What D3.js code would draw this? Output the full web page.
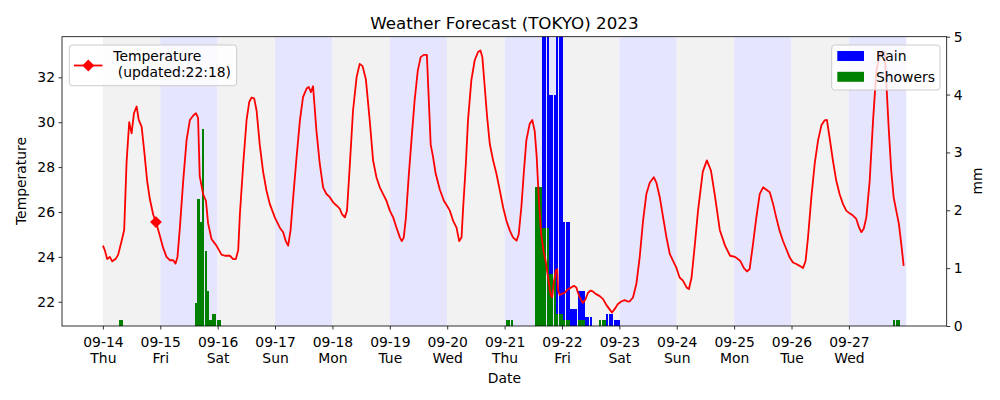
<!DOCTYPE html>
<html>
<head>
<meta charset="utf-8">
<script src="https://cdn.jsdelivr.net/npm/d3@7"></script>
<style>
  body { margin: 0; background: #fff; }
  text { font-family: "DejaVu Sans", sans-serif; }
</style>
</head>
<body>
<svg id="chart" width="1000" height="400"></svg>
<script>
// day labels (ticks at midnight, hours counted from 09-14 00:00)
const days = ["09-14", "09-15", "09-16", "09-17", "09-18", "09-19", "09-20",
              "09-21", "09-22", "09-23", "09-24", "09-25", "09-26", "09-27"];
const weekdays = ["Thu", "Fri", "Sat", "Sun", "Mon", "Tue", "Wed",
                  "Thu", "Fri", "Sat", "Sun", "Mon", "Tue", "Wed"];

// temperature forecast
const tempHours = [0,0.8,1.8,2.9,3.9,5.3,6.4,7.8,8.9,9.9,11,12,13,14.1,15,16.2,17.3,18.5,19.6,21,22.2,23.8,
  25.2,26.6,28,29.4,30.4,31.2,32.2,33.6,35,36.4,37.8,38.9,39.8,40.5,41.9,43.1,44,45.4,47.5,
  49.6,51,53.1,54.5,55.6,56.6,57.3,58.7,60.1,61.2,62.2,63.3,64.3,65.6,67,68.4,69.8,71.9,
  74,75.4,76.5,77.5,78.5,79.6,81,82.4,83.7,85.2,86.1,87,87.9,89.3,90.7,92.1,93.5,94.9,96.3,97.7,99.1,
  100,101.2,102.1,103.3,104.6,106.1,107.4,108.6,110,111.6,113,114.4,115.8,117.2,118.6,120,121.4,122.8,
  124.2,125,125.8,126.7,127.9,129.2,130.4,131.7,132.9,134.2,135.5,136.3,137.1,138,139.2,140.9,142.6,143.8,
  145.1,146.5,147.9,149,150,150.6,151.8,152.7,154.1,155.5,156.9,157.9,158.7,159.7,160.7,161.8,163.2,164.6,
  166,167.4,168.8,170.2,171.5,173,173.9,175,176,177.1,178.5,179.6,180.6,181.4,182.3,183.3,184.4,185.2,
  186.3,187.3,187.9,188.5,189.4,190,190.4,191.1,191.9,193.1,194.4,195.9,197,198,198.7,199.4,200.7,201.8,
  202.9,204,205,206.1,207.8,209.2,210.6,212,212.9,214,215.4,216.8,218.2,219.6,220.3,221.7,223.1,224.5,
  225.9,227.3,228.7,230.4,231.5,232.9,234.3,235.7,237.1,238.4,239.8,241.2,242.6,244.1,245.1,246.2,247.6,
  248.9,250.9,252.6,254.3,256,258,260.2,262.3,264.4,266.5,268.1,269.4,270.5,271.9,273.3,274.7,276.1,
  277.5,278.9,280.3,281.6,283,284.4,285.8,287.2,288.6,290,291.4,292.8,293.9,294.9,296.3,297.7,299.1,
  300.5,301.8,302.8,303.9,305.3,306.7,308.1,309.5,310.9,312.3,313.7,315.1,316.2,317.2,318.2,319.3,320.7,
  322.1,323.5,324.9,326,326.9,327.6,328.7,329.7,330.7,331.8,332.9,333.9,334.9];
const tempC = [24.5,24.3,23.9,24.0,23.8,23.9,24.1,24.7,25.2,28.2,30.0,29.5,30.4,30.7,30.1,29.8,28.7,27.4,26.6,25.9,25.55,24.95,
  24.4,24.0,23.85,23.85,23.7,24.0,25.3,27.4,29.2,30.1,30.3,30.4,30.2,27.6,26.8,26.5,25.5,24.8,24.5,
  24.1,24.05,24.05,23.9,23.9,24.3,25.9,28.15,30.1,30.9,31.1,31.05,30.5,29.0,27.8,26.96,26.36,25.76,
  25.3,25.1,24.7,24.5,25.2,26.66,28.44,30.08,31.12,31.5,31.57,31.34,31.6,29.63,28.15,27.1,26.8,26.66,26.43,26.29,26.14,
  25.9,25.76,26.06,28.15,30.5,32.0,32.6,32.5,31.9,30.08,28.3,27.55,27.1,26.8,26.5,26.06,25.76,25.3,
  24.87,24.7,24.85,25.7,27.6,29.4,31.0,32.3,32.9,33.0,33.0,31.0,29.0,28.5,27.7,27.0,26.5,26.3,
  26.06,25.6,25.3,24.7,24.87,26.06,28.15,30.08,31.87,32.76,33.13,33.2,32.9,31.57,30.23,29.04,28.3,27.7,
  26.96,26.2,25.6,25.17,24.87,24.72,25.0,26.2,27.7,29.19,29.93,30.1,29.6,28.5,26.6,25.0,24.2,23.8,
  23.0,22.3,22.2,22.8,23.4,23.45,22.5,22.3,22.35,22.4,22.55,22.64,22.71,22.64,22.4,22.2,21.95,22.1,
  22.4,22.5,22.45,22.35,22.25,22.12,21.85,21.65,21.52,21.67,21.9,22.01,22.07,22.01,22.02,22.19,22.79,23.98,
  25.6,26.8,27.3,27.55,27.3,26.66,25.76,24.87,24.13,23.83,23.53,23.08,22.94,22.64,22.57,23.08,24.58,
  26.06,27.8,28.3,27.85,26.7,25.2,24.5,24.05,24.0,23.83,23.5,23.35,23.46,24.58,25.76,26.8,27.1,
  26.99,26.88,26.36,25.76,25.17,24.72,24.35,23.98,23.75,23.68,23.6,23.5,23.83,24.87,26.66,28.15,29.19,
  29.86,30.08,30.1,29.33,28.3,27.4,26.8,26.36,26.06,25.94,25.84,25.69,25.32,25.1,25.25,25.76,27.4,
  30.08,32.3,32.98,33.17,33.13,31.87,29.63,27.85,26.66,26.06,25.47,24.58,23.6];

// latest observation marker
const updatedHour = 22.2;
const updatedTemp = 25.55;
const updatedLabel = "Temperature\n (updated:22:18)";

// hourly precipitation (mm)
const rainHours = [184,185,186,187,188,189,190,191,192,193,194,195,196,197,198,
                   199,200,201,202,203,204,211,212,213,214,215,216];
const rainMm = [5.6,5.6,5.6,4.0,4.0,4.0,5.8,5.8,5.8,1.8,1.8,1.8,0.3,0.3,0.3,
                0.6,0.6,0.6,0.15,0.15,0.15,0.2,0.2,0.2,0.1,0.1,0.1];
const showerHours = [7,8,39,40,41,42,43,44,45,46,47,48,49,169,170,171,181,182,183,
                     184,185,186,187,188,189,190,191,192,193,194,195,199,200,201,
                     208,209,210,331,332,333];
const showerMm = [0.1,0.1,0.4,2.2,1.8,3.4,1.3,0.6,0.1,0.2,0.2,0.1,0.1,0.1,0.1,0.1,2.4,2.4,2.4,
                  1.7,1.7,1.7,0.9,0.9,0.9,0.2,0.2,0.2,0.1,0.1,0.1,0.1,0.1,0.1,
                  0.1,0.1,0.1,0.1,0.1,0.1];

const margin = {top: 36.7, right: 53.3, bottom: 74, left: 62};
const WIDTH = 1000, HEIGHT = 400;
const FS = 13.9;

const svg = d3.select("#chart");

const x = d3.scaleLinear().domain([-17.1, 352.9]).range([margin.left, WIDTH - margin.right]);
const yT = d3.scaleLinear().domain([20.92, 33.81]).range([HEIGHT - margin.bottom, margin.top]);
const yR = d3.scaleLinear().domain([0, 5]).range([HEIGHT - margin.bottom, margin.top]);

svg.append("defs").append("clipPath").attr("id", "plot")
  .append("rect")
  .attr("x", margin.left).attr("y", margin.top)
  .attr("width", WIDTH - margin.right - margin.left)
  .attr("height", HEIGHT - margin.bottom - margin.top);

// day shading
svg.append("g")
  .selectAll("rect")
  .data(days)
  .join("rect")
  .attr("x", (d, i) => x(i * 24))
  .attr("width", (d, i) => x((i + 1) * 24) - x(i * 24))
  .attr("y", margin.top)
  .attr("height", yT.range()[0] - margin.top)
  .attr("fill", (d, i) => i % 2 ? "#e5e5fd" : "#f2f2f2");

// bars
const barW = x(0.9) - x(0);
const bars = svg.append("g").attr("clip-path", "url(#plot)").attr("shape-rendering", "crispEdges");
bars.selectAll("rect.rain")
  .data(rainHours.map((h, i) => [h, rainMm[i]]))
  .join("rect").attr("class", "rain")
  .attr("x", d => x(d[0]) - barW / 2)
  .attr("width", barW)
  .attr("y", d => yR(d[1]))
  .attr("height", d => yR(0) - yR(d[1]))
  .attr("fill", "#0000ff");
bars.selectAll("rect.shower")
  .data(showerHours.map((h, i) => [h, showerMm[i]]))
  .join("rect").attr("class", "shower")
  .attr("x", d => x(d[0]) - barW / 2)
  .attr("width", barW)
  .attr("y", d => yR(d[1]))
  .attr("height", d => yR(0) - yR(d[1]))
  .attr("fill", "#008000");

// temperature line
const line = d3.line().x(d => x(d[0])).y(d => yT(d[1]));
svg.append("path")
  .datum(tempHours.map((h, i) => [h, tempC[i]]))
  .attr("d", line)
  .attr("fill", "none")
  .attr("stroke", "#ff0000")
  .attr("stroke-width", 1.8)
  .attr("stroke-linejoin", "round");

const diamond = d3.symbol().type(d3.symbolSquare).size(70);
svg.append("path")
  .attr("d", diamond())
  .attr("transform", `translate(${x(updatedHour)},${yT(updatedTemp)}) rotate(45)`)
  .attr("fill", "#ff0000");

// axes
function styleAxis(g) {
  g.select(".domain").remove();
  g.selectAll(".tick line").attr("stroke", "#000").attr("stroke-width", 0.8);
  g.selectAll("text").attr("font-size", FS).attr("fill", "#000")
    .attr("font-family", "DejaVu Sans, sans-serif");
}

const xAxis = svg.append("g")
  .attr("transform", `translate(0,${yT.range()[0]})`)
  .call(d3.axisBottom(x).tickValues(days.map((d, i) => i * 24)).tickSize(3.5).tickFormat(""))
  .call(styleAxis);
xAxis.selectAll(".tick").each(function(d, i) {
  const t = d3.select(this).append("text")
    .attr("text-anchor", "middle").attr("font-size", FS).attr("fill", "#000");
  t.append("tspan").attr("x", 0).attr("y", 20.5).text(days[i]);
  t.append("tspan").attr("x", 0).attr("y", 36.5).text(weekdays[i]);
});

svg.append("g")
  .attr("transform", `translate(${margin.left},0)`)
  .call(d3.axisLeft(yT).tickValues([22, 24, 26, 28, 30, 32]).tickSize(3.5).tickPadding(3.5))
  .call(styleAxis);

svg.append("g")
  .attr("transform", `translate(${WIDTH - margin.right},0)`)
  .call(d3.axisRight(yR).tickValues([0, 1, 2, 3, 4, 5]).tickFormat(d3.format("d"))
    .tickSize(3.5).tickPadding(3.5))
  .call(styleAxis);

// frame
svg.append("rect")
  .attr("x", margin.left).attr("y", margin.top)
  .attr("width", WIDTH - margin.right - margin.left)
  .attr("height", yT.range()[0] - margin.top)
  .attr("fill", "none").attr("stroke", "#000").attr("stroke-width", 0.8);

// labels
const cx = (margin.left + WIDTH - margin.right) / 2;
svg.append("text").attr("x", cx).attr("y", 28.5).attr("text-anchor", "middle")
  .attr("font-size", 16.7).text("Weather Forecast (TOKYO) 2023");
svg.append("text").attr("x", cx).attr("y", 383).attr("text-anchor", "middle")
  .attr("font-size", FS).text("Date");
svg.append("text").attr("transform", "translate(26,181) rotate(-90)").attr("text-anchor", "middle")
  .attr("font-size", FS).text("Temperature");
svg.append("text").attr("transform", "translate(982,181) rotate(-90)").attr("text-anchor", "middle")
  .attr("font-size", FS).text("mm");

// left legend
const lg = svg.append("g");
const lgBox = lg.append("rect").attr("x", 69.3).attr("y", 45).attr("height", 40.7)
  .attr("rx", 3).attr("fill", "#fff").attr("fill-opacity", 0.8)
  .attr("stroke", "#cccccc").attr("stroke-width", 1);
lg.append("line").attr("x1", 74).attr("x2", 102.5).attr("y1", 65.5).attr("y2", 65.5)
  .attr("stroke", "#ff0000").attr("stroke-width", 1.8);
lg.append("path").attr("d", diamond())
  .attr("transform", "translate(88.3,65.5) rotate(45)").attr("fill", "#ff0000");
const lgText = lg.append("text").attr("font-size", FS).style("white-space", "pre");
updatedLabel.split("\n").forEach((s, i) => {
  lgText.append("tspan").attr("x", 113.3).attr("y", 61 + i * 16).text(s);
});
lgBox.attr("width", lgText.node().getBBox().x + lgText.node().getBBox().width + 5.6 - 69.3);

// right legend
const rg = svg.append("g");
rg.append("rect").attr("x", 831.7).attr("y", 45).attr("width", 108.3).attr("height", 45)
  .attr("rx", 3).attr("fill", "#fff").attr("fill-opacity", 0.8)
  .attr("stroke", "#cccccc").attr("stroke-width", 1);
[["Rain", "#0000ff"], ["Showers", "#008000"]].forEach((e, i) => {
  rg.append("rect").attr("x", 837.3).attr("y", 51 + i * 20.8).attr("width", 26.7).attr("height", 10)
    .attr("fill", e[1]);
  rg.append("text").attr("x", 876).attr("y", 61.3 + i * 20.8).attr("font-size", FS).text(e[0]);
});
</script>
</body>
</html>
